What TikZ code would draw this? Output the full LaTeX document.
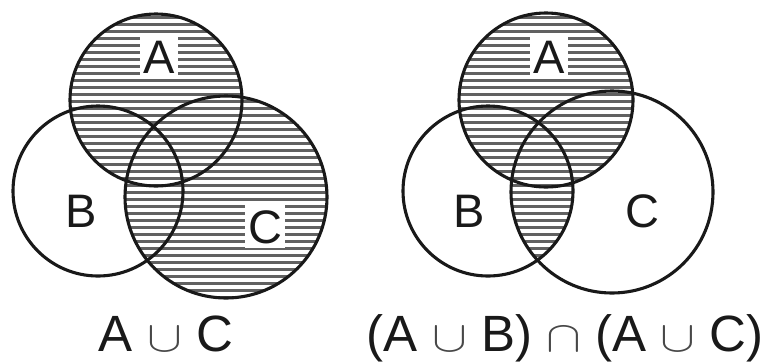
\documentclass[tikz,border=0pt]{standalone}
\usepackage{graphicx}
\usepackage{fontspec}
\setmainfont{Liberation Sans}
\newcommand{\un}{\scalebox{2.1}[1.75]{\color{black!72}\fontsize{24.88}{30}\selectfont$\cup$}}
\newcommand{\inter}{\scalebox{2.1}[1.75]{\color{black!72}\fontsize{24.88}{30}\selectfont$\cap$}}
\begin{document}
\begin{tikzpicture}[x=1pt,y=-1pt,
  ring/.style={draw=black!90, line width=3.1pt},
  hatchline/.style={draw=black!62, line width=2.8pt},
  lbl/.style={font=\fontsize{47}{50}\selectfont, anchor=base, text height=34pt, text depth=0pt, inner xsep=3pt, inner ysep=5pt, text=black!90},
  capt/.style={font=\fontsize{51}{56}\selectfont, anchor=base, inner sep=0pt, text=black!90}]
\useasboundingbox (0,0) rectangle (775,362);
\newcommand{\myhatch}{\foreach \yy in {0,...,52} {\draw[hatchline] (0,3.3+7*\yy) -- (775,3.3+7*\yy);}}
% centres
\coordinate (cA1) at (156,100);
\coordinate (cB1) at (98,191);
\coordinate (cC1) at (226,197);
\coordinate (cA2) at (546,100);
\coordinate (cB2) at (488,191);
\coordinate (cC2) at (612,192);
% left: A union C
\begin{scope}\clip (cA1) circle[radius=86pt]; \myhatch \end{scope}
\begin{scope}\clip (cC1) circle[radius=101pt]; \myhatch \end{scope}
\node[lbl, fill=white] (lA1) at (159,73) {A};
\node[lbl] (lB1) at (81,227) {B};
\node[lbl, fill=white] (lC1) at (265,243) {C};
\draw[ring] (cA1) circle[radius=86pt];
\draw[ring] (cB1) circle[radius=85pt];
\draw[ring] (cC1) circle[radius=101pt];
% right: (A u B) n (A u C)
\begin{scope}\clip (cA2) circle[radius=87pt]; \myhatch \end{scope}
\begin{scope}\clip (cB2) circle[radius=85pt]; \clip (cC2) circle[radius=101pt]; \myhatch \end{scope}
\node[lbl, fill=white] (lA2) at (549,73) {A};
\node[lbl] (lB2) at (469,227) {B};
\node[lbl] (lC2) at (642,227) {C};
\draw[ring] (cA2) circle[radius=87pt];
\draw[ring] (cB2) circle[radius=85pt];
\draw[ring] (cC2) circle[radius=101pt];
% captions
\node[capt] (cap1) at (166,351) {A \un{} C};
\node[capt] (cap2) at (565,351) {(A \un{} B) \inter{} (A \un{} C)};
\end{tikzpicture}
\end{document}
